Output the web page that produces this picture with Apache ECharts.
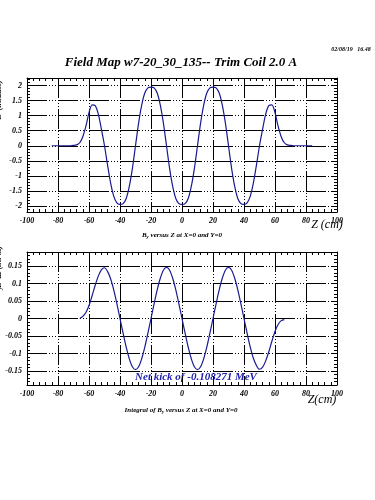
<!DOCTYPE html>
<html><head><meta charset="utf-8">
<script src="https://cdn.jsdelivr.net/npm/echarts@6/dist/echarts.min.js"></script>
<style>html,body{margin:0;padding:0;background:#fff}#c{width:375px;height:500px}</style>
</head><body><div id="c"></div>
<script>
// ---- data ----
const zField = [-84,-82,-80,-78,-76,-74,-72,-70,-68,-66,-64,-62,-60,-58,-56,-54,-52,-50,-48,-46,-44,-42,-40,-38,-36,-34,-32,-30,-28,-26,-24,-22,-20,-18,-16,-14,-12,-10,-8,-6,-4,-2,0,2,4,6,8,10,12,14,16,18,20,22,24,26,28,30,32,34,36,38,40,42,44,46,48,50,52,54,56,58,60,62,64,66,68,70,72,74,76,78,80,82,84];
const byField = [0,0,0,0,0,0,0,0.01,0.03,0.1,0.3,0.65,1.1,1.36,1.33,1.05,0.55,0,-0.65,-1.25,-1.68,-1.9,-1.95,-1.92,-1.75,-1.35,-0.75,0,0.75,1.35,1.75,1.92,1.95,1.92,1.75,1.35,0.75,0,-0.75,-1.35,-1.75,-1.92,-1.95,-1.92,-1.75,-1.35,-0.75,0,0.75,1.35,1.75,1.92,1.95,1.92,1.75,1.35,0.75,0,-0.75,-1.35,-1.75,-1.92,-1.95,-1.9,-1.68,-1.25,-0.65,0,0.55,1.05,1.33,1.36,1.1,0.65,0.3,0.1,0.03,0.01,0,0,0,0,0,0,0];
const zIntegral = [-66,-64,-62,-60,-58,-56,-54,-52,-50,-48,-46,-44,-42,-40,-38,-36,-34,-32,-30,-28,-26,-24,-22,-20,-18,-16,-14,-12,-10,-8,-6,-4,-2,0,2,4,6,8,10,12,14,16,18,20,22,24,26,28,30,32,34,36,38,40,42,44,46,48,50,52,54,56,58,60,62,64,66];
const byIntegral = [0,0.006,0.017,0.037,0.065,0.095,0.121,0.139,0.145,0.134,0.113,0.081,0.042,0,-0.042,-0.082,-0.115,-0.138,-0.146,-0.138,-0.115,-0.082,-0.042,0,0.042,0.082,0.115,0.138,0.146,0.138,0.115,0.082,0.042,0,-0.042,-0.082,-0.115,-0.138,-0.146,-0.138,-0.115,-0.082,-0.042,0,0.042,0.082,0.115,0.138,0.146,0.138,0.115,0.082,0.042,0,-0.042,-0.081,-0.113,-0.134,-0.145,-0.139,-0.121,-0.095,-0.065,-0.037,-0.017,-0.006,-0.003];
const zRange = [-100, 100];
const zStep = 20;
const fieldRange = [-2.2, 2.25];
const integralRange = [-0.19, 0.19];
const titleText = 'Field Map w7-20_30_135-- Trim Coil 2.0 A';
const dateText = '02/08/19   16.48';
const kickText = 'Net kick of -0.108271 MeV';

// ---- chart ----
const F = '"Liberation Serif", "DejaVu Serif", serif';
const LINE = '#1a1a90';
const lbl = {fontFamily: F, fontStyle: 'italic', fontWeight: 'bold', fontSize: 8, color: '#000'};
const grid = {show: true, lineStyle: {color: '#000', width: 1, type: [20, 2, 1, 2, 1, 2, 1, 2]}};
function xAx(gi, pos, main) {
  return {type: 'value', gridIndex: gi, position: pos, min: zRange[0], max: zRange[1], interval: zStep,
    axisLine: {show: true, onZero: false, lineStyle: {color: '#000', width: 1}},
    axisTick: {show: true, inside: true, length: 5, lineStyle: {color: '#000'}},
    minorTick: {show: true, splitNumber: 5, length: 3, lineStyle: {color: '#000'}},
    axisLabel: {show: main, margin: 5, ...lbl},
    splitLine: main ? grid : {show: false}, minorSplitLine: {show: false}};
}
function yAx(gi, pos, main, r, n) {
  return {type: 'value', gridIndex: gi, position: pos, min: r[0], max: r[1], splitNumber: n,
    axisLine: {show: true, onZero: false, lineStyle: {color: '#000', width: 1}},
    axisTick: {show: true, inside: true, length: 6, lineStyle: {color: '#000'}},
    minorTick: {show: true, splitNumber: 5, length: 3, lineStyle: {color: '#000'}},
    axisLabel: {show: main, margin: 5, showMinLabel: false, showMaxLabel: false, ...lbl},
    splitLine: main ? grid : {show: false}, minorSplitLine: {show: false}};
}
const chart = echarts.init(document.getElementById('c'), null, {renderer: 'canvas'});
const txt = (x, y, text, font, extra) => ({type: 'text', x, y, style: Object.assign({text, font, fill: '#000', textAlign: 'center', textVerticalAlign: 'middle'}, extra || {})});
chart.setOption({
  animation: false,
  backgroundColor: '#fff',
  grid: [
    {left: 27, right: 38, top: 78, height: 134},
    {left: 27, right: 38, top: 252, height: 133}
  ],
  xAxis: [xAx(0, 'bottom', true), xAx(0, 'top', false), xAx(1, 'bottom', true), xAx(1, 'top', false)],
  yAxis: [yAx(0, 'left', true, fieldRange, 9), yAx(0, 'right', false, fieldRange, 9),
          yAx(1, 'left', true, integralRange, 8), yAx(1, 'right', false, integralRange, 8)],
  series: [
    {type: 'line', xAxisIndex: 0, yAxisIndex: 0, data: zField.map((z, i) => [z, byField[i]]),
     showSymbol: false, smooth: 0.3, lineStyle: {color: LINE, width: 1.2}},
    {type: 'line', xAxisIndex: 2, yAxisIndex: 2, data: zIntegral.map((z, i) => [z, byIntegral[i]]),
     showSymbol: false, smooth: 0.3, lineStyle: {color: LINE, width: 1.2}}
  ],
  graphic: [
    txt(181, 63, titleText, 'italic bold 13px ' + F),
    txt(351, 49, dateText, 'italic bold 6px ' + F),
    txt(327, 225, 'Z (cm)', 'italic 12px ' + F),
    txt(322, 400, 'Z(cm)', 'italic 12px ' + F),
    {type: 'text', x: 182, y: 235, style: {text: '{n|B}{s|y}{n| versus Z at X=0 and Y=0}', textAlign: 'center', textVerticalAlign: 'middle',
      rich: {n: {font: 'italic bold 7px ' + F, fill: '#000'}, s: {font: 'italic bold 5px ' + F, fill: '#000', padding: [4, 0, 0, 0]}}}},
    {type: 'text', x: 181, y: 410, style: {text: '{n|Integral of B}{s|y}{n| versus Z at X=0 and Y=0}', textAlign: 'center', textVerticalAlign: 'middle',
      rich: {n: {font: 'italic bold 7px ' + F, fill: '#000'}, s: {font: 'italic bold 5px ' + F, fill: '#000', padding: [4, 0, 0, 0]}}}},
    txt(196, 377, kickText, 'italic bold 11px ' + F, {fill: '#2020b0'}),
    {type: 'text', x: -1, y: 100, rotation: Math.PI / 2, style: {text: 'B  (kGauss)', font: 'italic bold 8px ' + F, fill: '#000', textAlign: 'center', textVerticalAlign: 'middle'}},
    {type: 'text', x: -1, y: 268, rotation: Math.PI / 2, style: {text: '\u222BB  dz (kG m)', font: 'italic bold 8px ' + F, fill: '#000', textAlign: 'center', textVerticalAlign: 'middle'}}
  ]
});
</script>
</body></html>
